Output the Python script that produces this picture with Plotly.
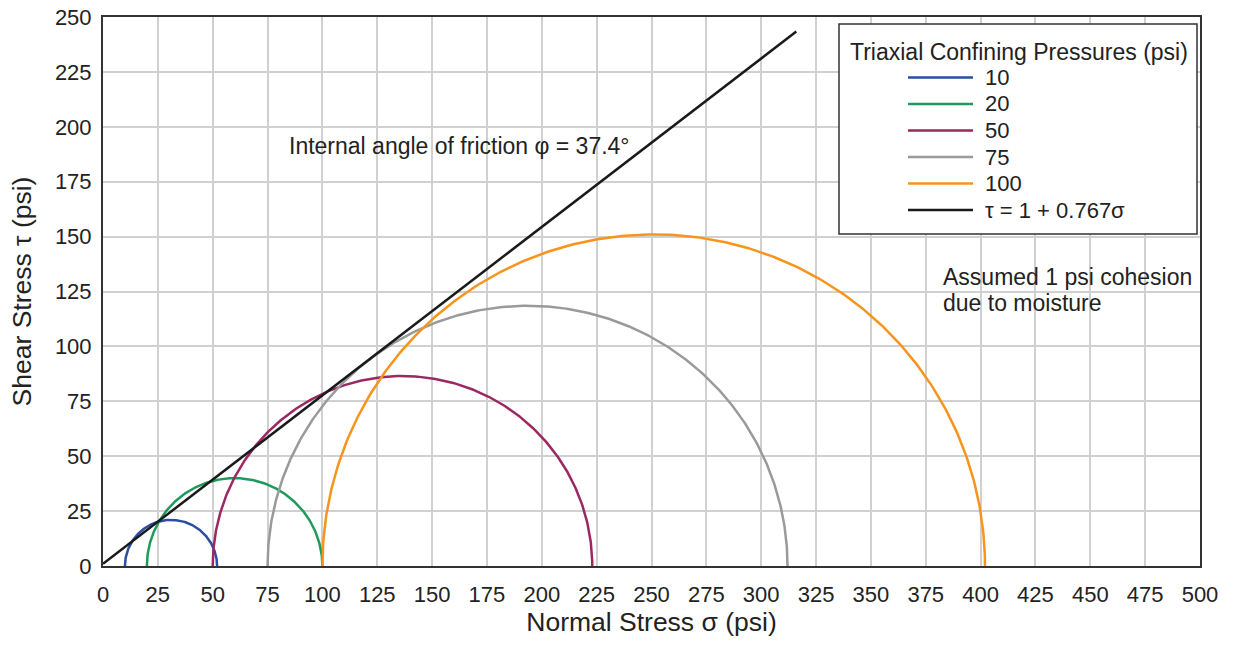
import numpy as np
import plotly.graph_objects as go

# Triaxial test results: confining pressure (sigma3) and failure stress (sigma1), psi
confining = [10, 20, 50, 75, 100]
sigma3 = [10, 20, 50, 75, 100]
sigma1 = [52, 100, 223, 312, 402]
colors = ["#2b4ea2", "#1f9a5c", "#9c2862", "#9a9a9a", "#f7941d"]

# Mohr-Coulomb failure envelope: tau = c + tan(phi) * sigma
cohesion = 1.0
slope = 0.767
envelope_sigma = [0, 316]

x_ticks = list(range(0, 501, 25))
y_ticks = list(range(0, 251, 25))

FONT = "Liberation Sans, Arial, sans-serif"
TXT = "#222222"

fig = go.Figure()

theta = np.linspace(np.pi, 0, 361)
for p, s3, s1, col in zip(confining, sigma3, sigma1, colors):
    c = (s1 + s3) / 2
    r = (s1 - s3) / 2
    fig.add_trace(go.Scatter(
        x=c + r * np.cos(theta), y=r * np.sin(theta), mode="lines",
        line=dict(color=col, width=2.5), name=str(p), showlegend=False,
        hoverinfo="skip"))

env_x = np.array(envelope_sigma, dtype=float)
fig.add_trace(go.Scatter(
    x=env_x, y=cohesion + slope * env_x, mode="lines",
    line=dict(color="#1a1a1a", width=2.5), name="τ = 1 + 0.767σ",
    showlegend=False, hoverinfo="skip"))

# Legend box drawn in paper coordinates
legend_labels = [str(p) for p in confining] + ["τ = 1 + 0.767σ"]
legend_colors = colors + ["#1a1a1a"]
shapes = []
annotations = []
W, H = 1235, 645
L, R, T, B = 103, 35, 17, 79
pw, ph = W - L - R, H - T - B


def px(x):
    return (x - L) / pw


def py(y):
    return (H - B - y) / ph


shapes.append(dict(type="rect", xref="paper", yref="paper",
                   x0=px(839), x1=px(1197), y0=py(234), y1=py(24),
                   line=dict(color="#333333", width=1.5),
                   fillcolor="white", layer="above"))
annotations.append(dict(xref="paper", yref="paper", x=px(1019), y=py(52),
                        text="Triaxial Confining Pressures (psi)",
                        showarrow=False, xanchor="center", yanchor="middle",
                        font=dict(size=23, color=TXT, family=FONT)))
for i, (lab, col) in enumerate(zip(legend_labels, legend_colors)):
    yy = 77.5 + i * 26.5
    shapes.append(dict(type="line", xref="paper", yref="paper",
                       x0=px(908), x1=px(973), y0=py(yy), y1=py(yy),
                       line=dict(color=col, width=2.5), layer="above"))
    annotations.append(dict(xref="paper", yref="paper", x=px(983), y=py(yy),
                            text=lab, showarrow=False, xanchor="left",
                            yanchor="middle",
                            font=dict(size=22, color=TXT, family=FONT)))

annotations.append(dict(xref="paper", yref="paper", x=px(287), y=py(146),
                        text="Internal angle of friction φ = 37.4°",
                        showarrow=False, xanchor="left", yanchor="middle",
                        font=dict(size=23, color=TXT, family=FONT)))
for k, line in enumerate(["Assumed 1 psi cohesion", "due to moisture"]):
    annotations.append(dict(xref="paper", yref="paper", x=px(941),
                            y=py(277 + 26 * k), text=line,
                            showarrow=False, xanchor="left", yanchor="middle",
                            font=dict(size=23, color=TXT, family=FONT)))

fig.update_layout(
    width=W, height=H,
    margin=dict(l=L, r=R, t=T, b=B, autoexpand=False),
    paper_bgcolor="white", plot_bgcolor="white",
    font=dict(family=FONT, color=TXT),
    shapes=shapes, annotations=annotations,
    showlegend=False,
)
fig.update_xaxes(
    range=[0, 500], tickvals=x_ticks, ticktext=[str(v) for v in x_ticks],
    showgrid=True, gridcolor="#d0d0d0", gridwidth=1.5,
    showline=True, linecolor="#333333", linewidth=2, mirror=True,
    zeroline=False, ticks="", tickfont=dict(size=22, family=FONT, color=TXT),
    ticklabelstandoff=8, automargin=False,
    title=dict(text="Normal Stress σ (psi)",
               font=dict(size=26.5, family=FONT, color=TXT), standoff=4),
)
fig.update_yaxes(
    range=[0, 250], tickvals=y_ticks, ticktext=[str(v) for v in y_ticks],
    showgrid=True, gridcolor="#d0d0d0", gridwidth=1.5,
    showline=True, linecolor="#333333", linewidth=2, mirror=True,
    zeroline=False, ticks="", tickfont=dict(size=22, family=FONT, color=TXT),
    ticklabelstandoff=5, automargin=False,
    title=dict(text="Shear Stress τ (psi)",
               font=dict(size=26.5, family=FONT, color=TXT), standoff=16),
)

fig.write_html("out.html")
